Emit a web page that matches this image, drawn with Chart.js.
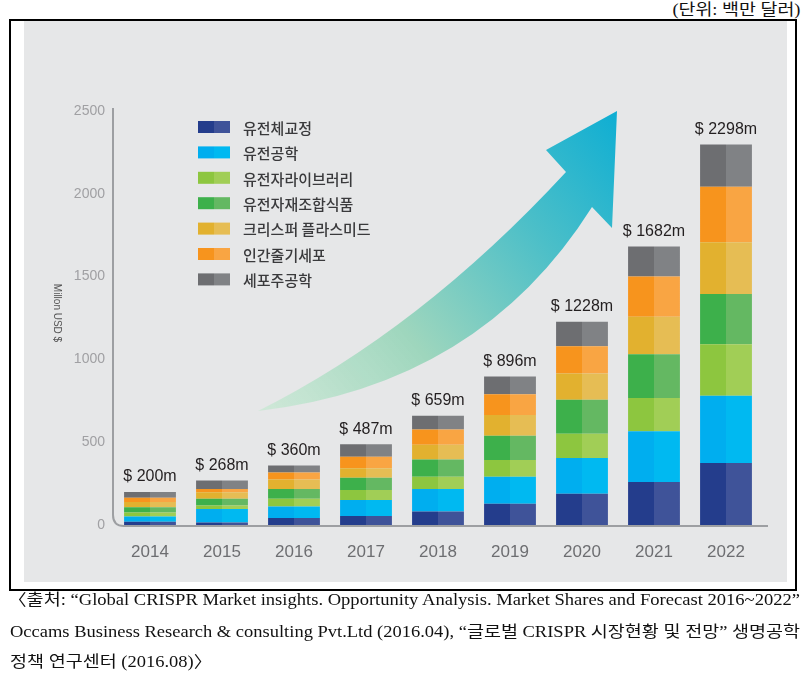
<!DOCTYPE html>
<html><head><meta charset="utf-8">
<script src="https://cdn.jsdelivr.net/npm/chart.js@4"></script>
<style>
html,body{margin:0;padding:0;}
body{width:805px;height:673px;position:relative;background:#fff;overflow:hidden;}
.abs{position:absolute;white-space:nowrap;}
.serif{font-family:"Liberation Serif","Noto Sans CJK KR",serif;color:#111;}
</style></head>
<body>
<div class="abs serif" id="unit" style="right:5px;top:0px;font-size:16px;line-height:20px;">(단위: 백만 달러)</div>
<div class="abs" style="left:9px;top:19px;width:788px;height:572px;border:2px solid #000;box-sizing:border-box;"></div>
<div class="abs" style="left:24px;top:21px;width:763px;height:561px;background:#e6e7e8;"></div>
<canvas id="c" width="805" height="673" style="position:absolute;left:0;top:0;"></canvas>
<div class="abs serif fit" id="f1" style="left:8px;top:590px;font-size:16px;line-height:20px;transform-origin:0 0;">〈출처: “Global CRISPR Market insights. Opportunity Analysis. Market Shares and Forecast 2016~2022”</div>
<div class="abs serif fit" id="f2" style="left:10px;top:622px;font-size:16px;line-height:20px;transform-origin:0 0;">Occams Business Research &amp; consulting Pvt.Ltd (2016.04), “글로벌 CRISPR 시장현황 및 전망” 생명공학</div>
<div class="abs serif" id="f3" style="left:10px;top:652px;font-size:16px;line-height:20px;transform-origin:0 0;">정책 연구센터 (2016.08)〉</div>
<script>
// ---- data ----
const years = ['2014','2015','2016','2017','2018','2019','2020','2021','2022'];
const seriesNames = ['유전체교정','유전공학','유전자라이브러리','유전자재조합식품','크리스퍼 플라스미드','인간줄기세포','세포주공학'];
const genomeEditing      = [19, 15, 42, 54, 81, 128, 188, 260, 374];
const geneticEngineering = [32, 81, 70, 97, 137, 163, 216, 306, 407];
const geneLibrary        = [24, 21, 47, 60, 73, 101, 147, 201, 310];
const gmFood             = [32, 41, 59, 74, 104, 147, 206, 264, 304];
const crisprPlasmid      = [32, 40, 57, 57, 89, 126, 158, 226, 312];
const stemCells          = [25, 20, 42, 70, 92, 124, 165, 244, 335];
const cellLineEng        = [36, 50, 43, 75, 83, 107, 148, 181, 256];
const totalLabels        = ['$ 200m','$ 268m','$ 360m','$ 487m','$ 659m','$ 896m','$ 1228m','$ 1682m','$ 2298m'];
const yTicks = [0, 500, 1000, 1500, 2000, 2500];

const seriesValues = [genomeEditing, geneticEngineering, geneLibrary, gmFood, crisprPlasmid, stemCells, cellLineEng];
const darkColors  = ['#243d8c','#00aeef','#8dc63f','#3db04b','#e2b12f','#f7941d','#6d6e71'];
const lightColors = ['#3f5399','#00b9f1','#a1ce56','#64b862','#e6bd54','#f9a543','#808285'];

function twoTone(i){
  return function(ctx){
    const chart = ctx.chart;
    if(!chart.chartArea) return darkColors[i];
    const xs = chart.scales.x;
    const cx = xs.getPixelForValue(ctx.dataIndex);
    const w = xs.width / years.length * 0.72;
    const g = chart.ctx.createLinearGradient(cx - w/2, 0, cx + w/2, 0);
    g.addColorStop(0, darkColors[i]); g.addColorStop(0.5, darkColors[i]);
    g.addColorStop(0.5, lightColors[i]); g.addColorStop(1, lightColors[i]);
    return g;
  };
}

const datasets = seriesNames.map((n, i) => ({
  label: n, data: seriesValues[i], backgroundColor: twoTone(i), borderWidth: 0,
  barPercentage: 0.72, categoryPercentage: 1.0
}));

const decor = {
  id: 'decor',
  beforeDatasetsDraw(chart){
    const c = chart.ctx;
    // swoosh arrow
    c.save();
    const g = c.createLinearGradient(258, 411, 617, 111);
    g.addColorStop(0, 'rgba(205,232,214,0.9)');
    g.addColorStop(0.35, '#9ed6bd');
    g.addColorStop(0.7, '#4cbfc8');
    g.addColorStop(1, '#0eaed3');
    c.fillStyle = g;
    c.beginPath();
    c.moveTo(258, 411);
    c.quadraticCurveTo(420, 330, 566, 172);
    c.lineTo(546, 150);
    c.lineTo(617, 111);
    c.lineTo(612, 228);
    c.lineTo(592, 207);
    c.quadraticCurveTo(480, 385, 258, 411);
    c.closePath();
    c.fill();
    c.restore();
    // axis lines with rounded corner
    const a = chart.chartArea;
    const x0 = a.left - 1, y0 = chart.scales.y.getPixelForValue(0) + 1;
    c.save();
    c.strokeStyle = '#9d9fa2'; c.lineWidth = 2;
    c.beginPath();
    c.moveTo(x0, chart.scales.y.getPixelForValue(2500) - 3);
    c.lineTo(x0, y0 - 11);
    c.quadraticCurveTo(x0, y0, x0 + 11, y0);
    c.lineTo(a.right + 6, y0);
    c.stroke();
    // y axis title
    c.translate(57, 313);
    c.rotate(Math.PI/2);
    c.fillStyle = '#555';
    c.font = '10px "Liberation Sans", Arial, sans-serif';
    c.textAlign = 'center'; c.textBaseline = 'middle';
    c.fillText('Millon USD $', 0, 0);
    c.restore();
  },
  afterDatasetsDraw(chart){
    const c = chart.ctx;
    const xs = chart.scales.x, ys = chart.scales.y;
    c.save();
    // totals above bars
    c.fillStyle = '#231f20';
    c.font = '16px "Liberation Sans", Arial, sans-serif';
    c.textAlign = 'center'; c.textBaseline = 'bottom';
    years.forEach((y, i) => {
      let s = 0; seriesValues.forEach(arr => s += arr[i]);
      c.fillText(totalLabels[i], xs.getPixelForValue(i), ys.getPixelForValue(s) - 7);
    });
    // legend
    c.textAlign = 'left'; c.textBaseline = 'middle';
    c.font = '500 15px "Noto Sans CJK KR", sans-serif';
    seriesNames.forEach((n, i) => {
      const yy = 127 + i * 25.4;
      c.fillStyle = darkColors[i]; c.fillRect(198, yy - 6, 16, 12);
      c.fillStyle = lightColors[i]; c.fillRect(214, yy - 6, 16, 12);
      c.fillStyle = '#3a3a3c';
      c.fillText(n, 243, yy + 1);
    });
    c.restore();
  }
};

new Chart(document.getElementById('c'), {
  type: 'bar',
  data: { labels: years, datasets },
  options: {
    responsive: false, animation: false,
    layout: { padding: { left: 0, right: 43, top: 111, bottom: 0 } },
    plugins: { legend: { display: false }, tooltip: { enabled: false } },
    scales: {
      x: {
        stacked: true,
        grid: { display: false, drawTicks: false }, border: { display: false },
        ticks: { color: '#6d6e71', font: { size: 17, family: '"Liberation Sans", Arial, sans-serif' }, padding: 17, maxRotation: 0 },
        afterFit(s){ s.height = 148; }
      },
      y: {
        stacked: true, min: 0, max: 2500,
        grid: { display: false, drawTicks: false }, border: { display: false },
        afterBuildTicks(s){ s.ticks = yTicks.map(v => ({ value: v })); },
        ticks: { color: '#a0a0a3', font: { size: 14, family: '"Liberation Sans", Arial, sans-serif' }, padding: 9,
                 callback: v => String(v) },
        afterFit(s){ s.width = 114; }
      }
    }
  },
  plugins: [decor]
});

// fit footer lines
function fit(id, target){
  const el = document.getElementById(id);
  const w = el.getBoundingClientRect().width;
  const k = target / w;
  el.style.transform = 'scaleX(' + k + ')';
  return k;
}
fit('f1', 792);
const k2 = fit('f2', 790);
document.getElementById('f3').style.transform = 'scaleX(' + k2 + ')';
document.getElementById('unit').style.transformOrigin = '100% 0';
fit('unit', 128);
</script>
</body></html>
